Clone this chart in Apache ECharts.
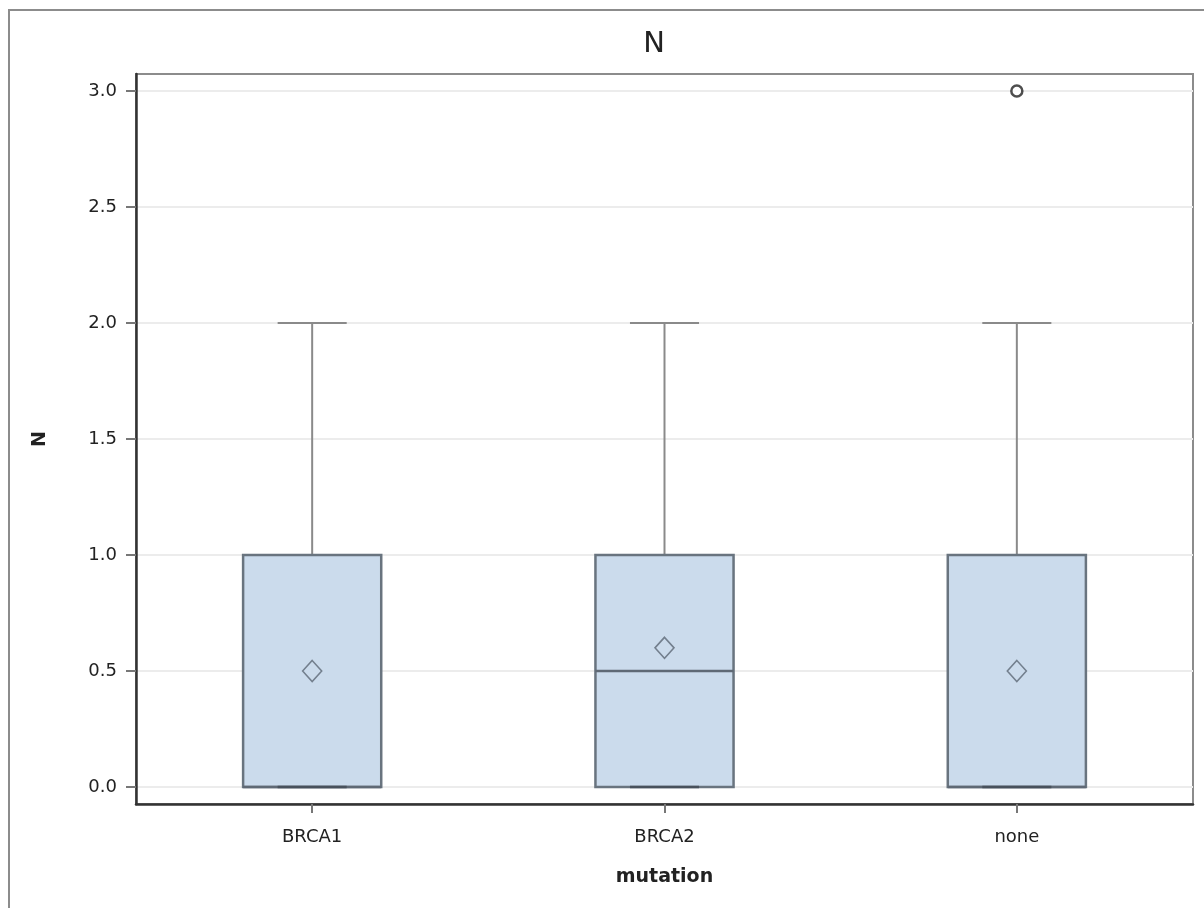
<!DOCTYPE html>
<html>
<head>
<meta charset="utf-8">
<script src="https://cdn.jsdelivr.net/npm/echarts@6/dist/echarts.min.js"></script>
<style>
  html, body { margin: 0; padding: 0; background: #fff; }
  #frame { position: absolute; left: 8px; top: 9px; width: 1300px; height: 1000px;
    border-top: 2px solid #8c8c8c; border-left: 2px solid #8c8c8c; }
  #chart { position: absolute; left: 0; top: 0; width: 1204px; height: 908px; }
</style>
</head>
<body>
<div id="frame"></div>
<div id="chart"></div>
<script>
// box statistics per mutation group
var categories = ['BRCA1', 'BRCA2', 'none'];
var minVals = [0, 0, 0];
var q1Vals = [0, 0, 0];
var medianVals = [0, 0.5, 0];
var q3Vals = [1, 1, 1];
var maxVals = [2, 2, 2];
var meanVals = [0.5, 0.6, 0.5];
var outlierCats = ['none'];
var outlierVals = [3.0];
var yTicks = [0, 0.5, 1.0, 1.5, 2.0, 2.5, 3.0];

var boxData = categories.map(function (c, i) {
  return [i, minVals[i], q1Vals[i], medianVals[i], q3Vals[i], maxVals[i]];
});
var meanData = categories.map(function (c, i) { return [c, meanVals[i]]; });
var outlierData = outlierCats.map(function (c, i) { return [c, outlierVals[i]]; });

var fontFamily = '"DejaVu Sans", Arial, sans-serif';

function renderBox(params, api) {
  var x = api.value(0);
  var pMin = api.coord([x, api.value(1)]);
  var pQ1 = api.coord([x, api.value(2)]);
  var pMed = api.coord([x, api.value(3)]);
  var pQ3 = api.coord([x, api.value(4)]);
  var pMax = api.coord([x, api.value(5)]);
  var band = api.size([1, 0])[0];
  var w = band * 0.392;
  var cx = pQ1[0];
  var whisker = { stroke: '#8a8a8a', lineWidth: 2 };
  var children = [
    { type: 'line', shape: { x1: cx, y1: pQ3[1], x2: cx, y2: pMax[1] }, style: whisker },
    { type: 'line', shape: { x1: cx, y1: pMin[1], x2: cx, y2: pQ1[1] }, style: whisker },
    { type: 'line', shape: { x1: cx - w / 4, y1: pMax[1], x2: cx + w / 4, y2: pMax[1] }, style: whisker },
    {
      type: 'rect',
      shape: { x: cx - w / 2, y: pQ3[1], width: w, height: pQ1[1] - pQ3[1] },
      style: { fill: '#cbdbec', stroke: '#69747f', lineWidth: 2.5 }
    },
    { type: 'line', shape: { x1: cx - w / 2, y1: pMed[1], x2: cx + w / 2, y2: pMed[1] },
      style: { stroke: '#5f6975', lineWidth: 2.5 } },
    { type: 'line', shape: { x1: cx - w / 4, y1: pMin[1], x2: cx + w / 4, y2: pMin[1] },
      style: { stroke: '#48515c', lineWidth: 2.5 } }
  ];
  return { type: 'group', children: children };
}

var chart = echarts.init(document.getElementById('chart'));
chart.setOption({
  backgroundColor: 'transparent',
  animation: false,
  title: {
    text: 'N',
    left: 649,
    textAlign: 'center',
    top: 25,
    textStyle: { fontFamily: fontFamily, fontSize: 29, fontWeight: 'normal', color: '#222' }
  },
  grid: {
    left: 136, right: 11, top: 74, bottom: 104,
    show: true, borderColor: '#8c8c8c', borderWidth: 2, backgroundColor: 'transparent'
  },
  xAxis: {
    type: 'category',
    data: categories,
    name: 'mutation',
    nameLocation: 'middle',
    nameGap: 64,
    nameTextStyle: { fontFamily: fontFamily, fontSize: 19, fontWeight: 'bold', color: '#222' },
    axisLine: { onZero: false, lineStyle: { color: '#333', width: 2.5 } },
    axisTick: { show: true, alignWithLabel: true, length: 9, lineStyle: { color: '#777', width: 2 } },
    axisLabel: { margin: 24, fontFamily: fontFamily, fontSize: 18, color: '#222' },
    splitLine: { show: false }
  },
  yAxis: {
    type: 'value',
    min: -0.0733,
    max: 3.0733,
    name: 'N',
    nameLocation: 'middle',
    nameRotate: 90,
    nameGap: 86,
    nameTextStyle: { fontFamily: fontFamily, fontSize: 19, fontWeight: 'bold', color: '#222' },
    axisLine: { show: true, lineStyle: { color: '#333', width: 2.5 } },
    axisTick: { show: true, customValues: yTicks, length: 10, lineStyle: { color: '#777', width: 2 } },
    axisLabel: {
      customValues: yTicks, margin: 19, fontFamily: fontFamily, fontSize: 18, color: '#222',
      formatter: function (v) { return v.toFixed(1); }
    },
    splitLine: { show: true, lineStyle: { color: '#ececec', width: 2 } }
  },
  series: [
    {
      type: 'custom',
      renderItem: renderBox,
      encode: { x: 0, y: [1, 2, 3, 4, 5] },
      data: boxData,
      z: 2
    },
    {
      type: 'scatter',
      data: meanData,
      symbol: 'diamond',
      symbolSize: [19, 21],
      itemStyle: { color: 'transparent', borderColor: '#5d6876', borderWidth: 1.6 },
      z: 3
    },
    {
      type: 'scatter',
      data: outlierData,
      symbol: 'circle',
      symbolSize: 11,
      itemStyle: { color: '#fff', borderColor: '#222', borderWidth: 2.5 },
      z: 3
    }
  ]
});
</script>
</body>
</html>
